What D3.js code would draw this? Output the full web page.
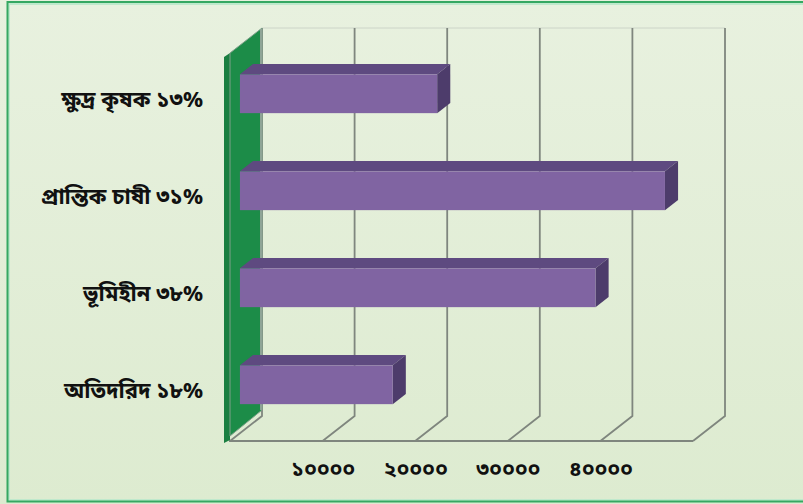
<!DOCTYPE html>
<html>
<head>
<meta charset="utf-8">
<script src="https://cdn.jsdelivr.net/npm/d3@7"></script>
<style>
  html, body { margin: 0; padding: 0; background: #e7f0dc; }
  svg { display: block; }
  text { font-family: "Noto Sans Bengali", "Lohit Bengali", "Noto Sans", "DejaVu Sans", sans-serif; }
</style>
</head>
<body>
<svg id="chart" width="803" height="504"></svg>
<script>
// Categories (row labels) and bar values
const categories = ["ক্ষুদ্র কৃষক ১৩%", "প্রান্তিক চাষী ৩১%", "ভূমিহীন ৩৮%", "অতিদরিদ ১৮%"];
const values = [21300, 45900, 38400, 16500];
const gridValues = [0, 10000, 20000, 30000, 40000, 50000];
const tickValues = [10000, 20000, 30000, 40000];
const bnDigits = ["০", "১", "২", "৩", "৪", "৫", "৬", "৭", "৮", "৯"];

const toBengali = n => String(n).replace(/[0-9]/g, d => bnDigits[+d]);

const W = 803, H = 504;
const svg = d3.select("#chart");

// background + frame
const defs = svg.append("defs");
const bg = defs.append("linearGradient").attr("id", "bg").attr("x1", 0).attr("y1", 0).attr("x2", 0).attr("y2", 1);
bg.append("stop").attr("offset", "0%").attr("stop-color", "#e8f1df");
bg.append("stop").attr("offset", "100%").attr("stop-color", "#ddebd0");
svg.append("rect").attr("width", W).attr("height", H).attr("fill", "url(#bg)");
svg.append("rect").attr("x", 9).attr("y", 4).attr("width", W + 20).attr("height", 496)
  .attr("fill", "none").attr("stroke", "#bfe9cc").attr("stroke-width", 2);
svg.append("rect").attr("x", 7.5).attr("y", 2).attr("width", W + 20).attr("height", 499.5)
  .attr("fill", "none").attr("stroke", "#35a862").attr("stroke-width", 2);

// 3D plot geometry: front plane plus a depth vector toward the back wall
const depth = { dx: 32, dy: -25 };
const frontTop = 53, frontBottom = 441;
const x = d3.scaleLinear().domain([0, 50000]).range([230, 693]);
const y = d3.scaleBand().domain(categories).range([frontTop, frontBottom])
  .paddingInner(0.6).paddingOuter(0.3);

const backX = v => x(v) + depth.dx;
const backTop = frontTop + depth.dy, backBottom = frontBottom + depth.dy;

const grid = svg.append("g").attr("fill", "none").attr("stroke", "#7f867e").attr("stroke-width", 1.8);
// faint top edge of back wall
grid.append("line").attr("x1", backX(0)).attr("x2", backX(50000))
  .attr("y1", backTop).attr("y2", backTop).attr("stroke", "#ccd4c8").attr("stroke-width", 1);
// vertical gridlines on the back wall and their floor diagonals
gridValues.forEach(v => {
  grid.append("path").attr("d",
    `M${backX(v)},${backTop}L${backX(v)},${backBottom}L${x(v)},${frontBottom}`);
});
// front edge of the floor
grid.append("line").attr("x1", x(0) - 1).attr("x2", x(50000))
  .attr("y1", frontBottom).attr("y2", frontBottom);

// green side wall
const wall = svg.append("g");
wall.append("path")
  .attr("d", `M${x(0) - 6},${frontTop + 4}L${x(0)},${frontTop}L${x(0)},${frontBottom - 1}L${x(0) - 6},${frontBottom + 2}Z`)
  .attr("fill", "#1a7f41");
wall.append("path")
  .attr("d", `M${x(0)},${frontTop}L${backX(0)},${backTop}L${backX(0)},${backBottom - 6}L${x(0)},${frontBottom - 5}Z`)
  .attr("fill", "#1c8c48").attr("stroke", "#7fa08a").attr("stroke-width", 1);
wall.append("line").attr("x1", backX(0) - 1).attr("x2", backX(0) - 1)
  .attr("y1", backTop + 1).attr("y2", backBottom - 6)
  .attr("stroke", "#8fa597").attr("stroke-width", 2);

// bars occupy the middle slice of the depth
const d0 = 0.31, d1 = 0.72;
const ox = depth.dx * d0, oy = depth.dy * d0;
const bx = depth.dx * (d1 - d0), by = depth.dy * (d1 - d0);

const bars = svg.append("g").selectAll("g").data(categories.map((c, i) => ({ c, v: values[i] })))
  .join("g");
bars.each(function (d) {
  const g = d3.select(this);
  const x0 = x(0) + ox, x1 = x(d.v) + ox;
  const y0 = y(d.c) + oy, y1 = y0 + y.bandwidth();
  g.append("path").attr("fill", "#5e4a80")
    .attr("d", `M${x0},${y0}L${x0 + bx},${y0 + by}L${x1 + bx},${y0 + by}L${x1},${y0}Z`);
  g.append("path").attr("fill", "#4d3c6b")
    .attr("d", `M${x1},${y0}L${x1 + bx},${y0 + by}L${x1 + bx},${y1 + by}L${x1},${y1}Z`);
  g.append("rect").attr("x", x0).attr("y", y0).attr("width", x1 - x0).attr("height", y1 - y0)
    .attr("fill", "#8064a2");
});

// category labels
svg.append("g").selectAll("text").data(categories).join("text")
  .attr("x", 203).attr("y", d => y(d) + y.bandwidth() / 2)
  .attr("text-anchor", "end").attr("dominant-baseline", "central")
  .attr("font-size", 22).attr("font-weight", "bold").attr("fill", "#111")
  .text(d => d);

// value axis along the front edge of the floor
const axis = d3.axisBottom(x).tickValues(tickValues).tickSize(0).tickPadding(0)
  .tickFormat(toBengali);
const ag = svg.append("g").attr("transform", `translate(0,${frontBottom + 28})`).call(axis);
ag.select(".domain").remove();
ag.selectAll("text").attr("font-size", 21).attr("font-weight", "bold").attr("fill", "#111")
  .attr("dy", "0.35em").attr("font-family", null);
</script>
</body>
</html>
